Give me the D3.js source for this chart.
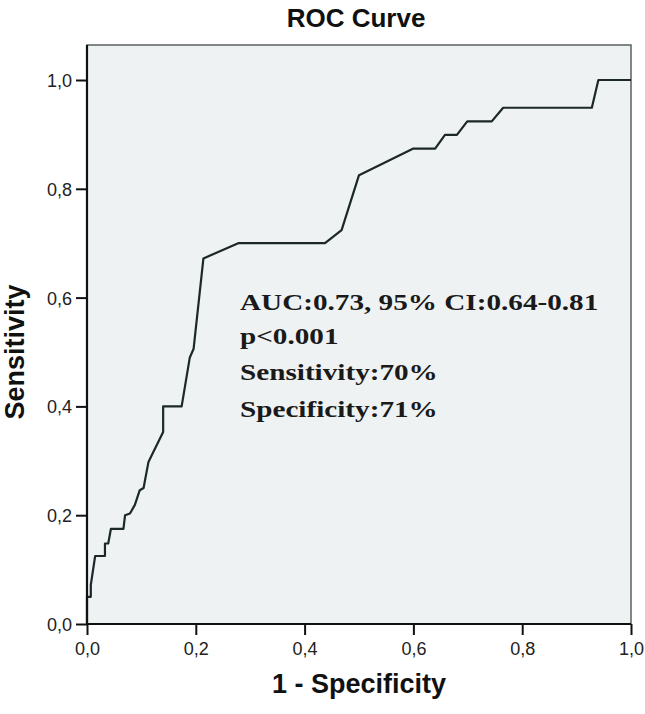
<!DOCTYPE html>
<html>
<head>
<meta charset="utf-8">
<script src="https://cdn.jsdelivr.net/npm/d3@7"></script>
<style>
  html, body { margin: 0; padding: 0; background: #ffffff; }
  svg { display: block; }
</style>
</head>
<body>
<svg id="chart" width="645" height="714"></svg>
<script>
// ---- data ----
const fpr = [0, 0, 0.007, 0.007, 0.015, 0.033, 0.033, 0.039, 0.044, 0.067, 0.07, 0.079, 0.088, 0.097, 0.104, 0.113, 0.119, 0.14, 0.14, 0.174, 0.189, 0.196, 0.214, 0.278, 0.4375, 0.468, 0.50, 0.60, 0.64, 0.658, 0.68, 0.699, 0.744, 0.765, 0.928, 0.94, 1.0];
const tpr = [0, 0.05, 0.05, 0.072, 0.125, 0.125, 0.148, 0.148, 0.175, 0.175, 0.2, 0.203, 0.219, 0.246, 0.25, 0.298, 0.31, 0.353, 0.4, 0.4, 0.49, 0.506, 0.672, 0.70, 0.70, 0.724, 0.825, 0.874, 0.874, 0.899, 0.899, 0.924, 0.924, 0.949, 0.949, 1.0, 1.0];
const tickValues = [0, 0.2, 0.4, 0.6, 0.8, 1.0];
const tickLabels = ["0,0", "0,2", "0,4", "0,6", "0,8", "1,0"];
const titleText = "ROC Curve";
const xTitle = "1 - Specificity";
const yTitle = "Sensitivity";
const annotation = ["AUC:0.73, 95% CI:0.64-0.81", "p<0.001", "Sensitivity:70%", "Specificity:71%"];

// ---- layout ----
const pL = 87, pR = 631, pT = 45, pB = 624;
const svg = d3.select("#chart");
const x = d3.scaleLinear().domain([0, 1]).range([pL, pR]);
const y = d3.scaleLinear().domain([0, 1]).range([pB, 80]);

// plot background + frame
svg.append("rect")
  .attr("x", pL).attr("y", pT)
  .attr("width", pR - pL).attr("height", pB - pT)
  .attr("fill", "#eff2f2")
  .attr("stroke", "#5a6262").attr("stroke-width", 1.5);

// curve
const line = d3.line().x((d, i) => x(fpr[i])).y((d, i) => y(tpr[i]));
svg.append("path")
  .datum(fpr)
  .attr("d", line)
  .attr("fill", "none")
  .attr("stroke", "#1c2828")
  .attr("stroke-width", 2.2)
  .attr("stroke-linejoin", "round");

// axes
const xAxis = d3.axisBottom(x).tickValues(tickValues)
  .tickFormat((d, i) => tickLabels[i]).tickSize(11).tickSizeOuter(0).tickPadding(7);
const yAxis = d3.axisLeft(y).tickValues(tickValues)
  .tickFormat((d, i) => tickLabels[i]).tickSize(11).tickSizeOuter(0).tickPadding(4);

const gx = svg.append("g").attr("transform", `translate(0,${pB})`).call(xAxis);
const gy = svg.append("g").attr("transform", `translate(${pL},0)`).call(yAxis);
gx.select(".domain").attr("d", `M${pL},0H${pR}`);
gy.select(".domain").attr("d", `M0,${pT}V${pB}`);
[gx, gy].forEach(g => {
  g.select(".domain").attr("stroke", "#111").attr("stroke-width", 2.2);
  g.selectAll(".tick line").attr("stroke", "#111").attr("stroke-width", 2);
  g.selectAll(".tick text")
    .attr("fill", "#222")
    .style("font-family", "'Liberation Sans', Arial, sans-serif")
    .style("font-size", "18px");
});
gy.selectAll(".tick text").attr("dy", "0.36em");

// titles
svg.append("text")
  .attr("x", 356).attr("y", 27)
  .attr("text-anchor", "middle")
  .style("font-family", "'Liberation Sans', Arial, sans-serif")
  .style("font-size", "26px").style("font-weight", "bold")
  .attr("fill", "#111")
  .text(titleText);

svg.append("text")
  .attr("x", (pL + pR) / 2).attr("y", 693)
  .attr("text-anchor", "middle")
  .style("font-family", "'Liberation Sans', Arial, sans-serif")
  .style("font-size", "27px").style("font-weight", "bold")
  .attr("fill", "#111")
  .text(xTitle);

svg.append("text")
  .attr("transform", `translate(24,${(80 + pB) / 2}) rotate(-90)`)
  .attr("text-anchor", "middle")
  .style("font-family", "'Liberation Sans', Arial, sans-serif")
  .style("font-size", "27px").style("font-weight", "bold")
  .attr("fill", "#111")
  .text(yTitle);

// annotation
const baselines = [310, 344, 380, 417];
const ann = svg.append("g").attr("transform", "translate(240,0) scale(1.27,1)");
ann.selectAll("text").data(annotation).join("text")
  .attr("x", 0).attr("y", (d, i) => baselines[i])
  .style("font-family", "'Liberation Serif', 'Times New Roman', serif")
  .style("font-size", "23px").style("font-weight", "bold")
  .attr("fill", "#1a1a1a")
  .text(d => d);
</script>
</body>
</html>
